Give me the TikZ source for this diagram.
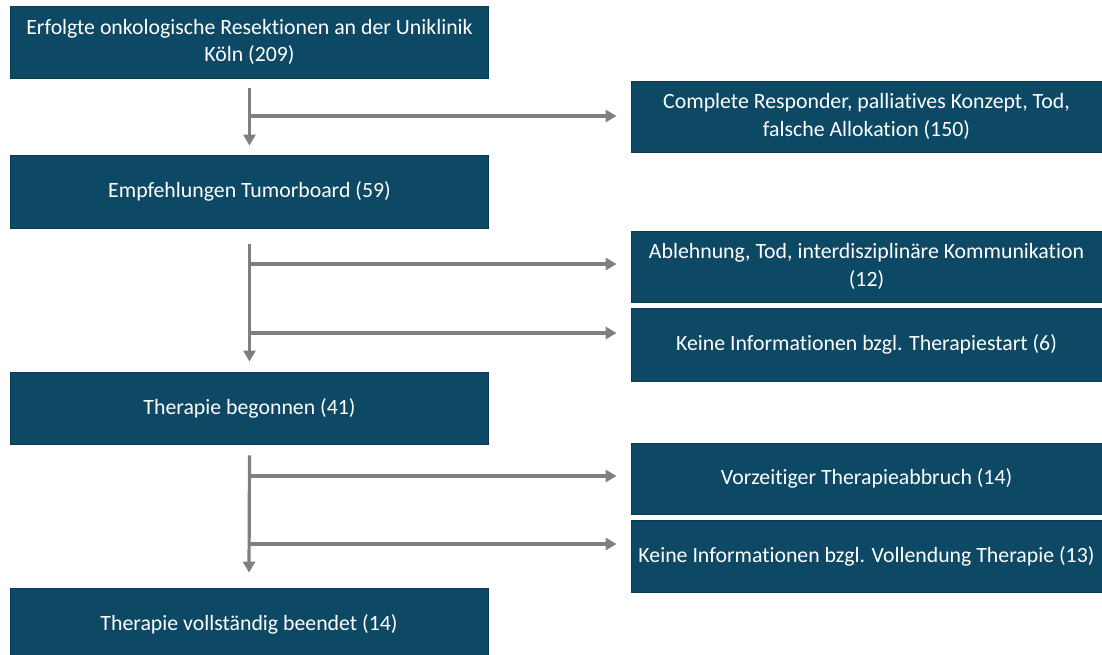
\documentclass[tikz,border=0pt]{standalone}
\usepackage{fontspec}
\setmainfont{Carlito}[Ligatures={NoCommon}]
\usetikzlibrary{arrows.meta}
\definecolor{boxfill}{HTML}{0D4965}
\definecolor{boxline}{HTML}{0A3B54}
\definecolor{linegray}{HTML}{7F7F7F}
\begin{document}
\begin{tikzpicture}[x=1pt,y=-1pt,
  box/.style={fill=boxfill, draw=boxline, line width=0.8pt, text=white, align=center,
    inner sep=0pt, font=\fontsize{21.8}{27.5}\selectfont},
  lbox/.style={box, minimum width=478pt, minimum height=72pt},
  rbox/.style={box, minimum width=471pt, minimum height=71pt},
  arr/.style={draw=linegray, line width=3.2pt, -{Triangle[width=12pt,length=11pt]}}]
\useasboundingbox (0,0) rectangle (1102,654);
% left column
\node[lbox] (b1) at (249.5,42) {Erfolgte onkologische Resektionen an der Uniklinik\\Köln (209)};
\node[lbox, minimum height=73pt] (b2) at (249.5,191.5) {Empfehlungen Tumorboard (59)};
\node[lbox] (b3) at (249.5,408) {Therapie begonnen (41)};
\node[lbox] (b4) at (249,624) {Therapie vollständig beendet (14)};
% right column
\node[rbox] (r1) at (866.5,116.5) {Complete Responder, palliatives Konzept, Tod,\\falsche Allokation (150)};
\node[rbox] (r2) at (866.5,266.5) {Ablehnung, Tod, interdisziplinäre Kommunikation\\(12)};
\node[rbox, minimum height=73pt] (r3) at (866.5,344.5) {Keine Informationen bzgl. Therapiestart (6)};
\node[rbox] (r4) at (866.5,478.5) {Vorzeitiger Therapieabbruch (14)};
\node[rbox, minimum height=72pt] (r5) at (866.5,556) {Keine Informationen bzgl. Vollendung Therapie (13)};
% vertical connectors
\draw[arr] ([yshift=-10pt]b1.south) -- ([yshift=9pt]b2.north);
\draw[arr] ([yshift=-16pt]b2.south) -- ([yshift=10pt]b3.north);
\draw[arr] ([yshift=-11pt]b3.south) -- ([yshift=15pt]b4.north);
% branch points
\coordinate (h1) at (249.5,116);
\coordinate (h2) at (249.5,264);
\coordinate (h3) at (249.5,333);
\coordinate (h4) at (249.5,476);
\coordinate (h5) at (249.5,544);
\draw[arr, shorten >=14pt] (h1) -- (h1 -| r1.west);
\draw[arr, shorten >=14pt] (h2) -- (h2 -| r2.west);
\draw[arr, shorten >=14pt] (h3) -- (h3 -| r3.west);
\draw[arr, shorten >=14pt] (h4) -- (h4 -| r4.west);
\draw[arr, shorten >=14pt] (h5) -- (h5 -| r5.west);
\end{tikzpicture}
\end{document}
